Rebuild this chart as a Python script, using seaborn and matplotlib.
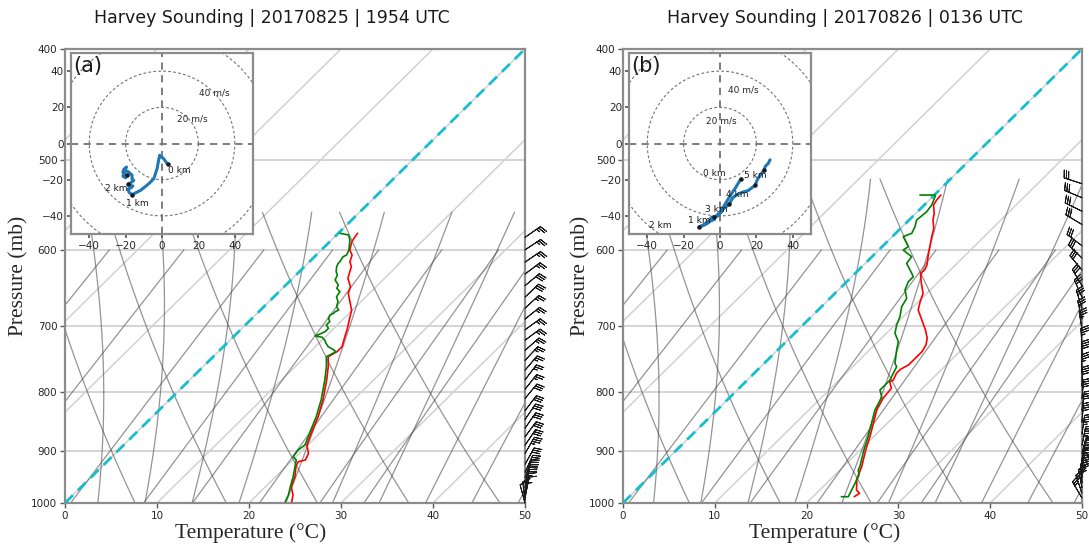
import numpy as np
import pandas as pd
import matplotlib
matplotlib.use("Agg")
import matplotlib.pyplot as plt
import matplotlib.transforms as mtransforms
from matplotlib.ticker import FixedLocator, ScalarFormatter, NullLocator
import seaborn as sns

# ---------------- data ----------------
titles = ["Harvey Sounding | 20170825 | 1954 UTC", "Harvey Sounding | 20170826 | 0136 UTC"]
panel_tags = ["(a)", "(b)"]
pressure_ticks = [1000, 900, 800, 700, 600, 500, 400]
temp_ticks = [0, 10, 20, 30, 40, 50]
hodo_ticks = [-40, -20, 0, 20, 40]
ring_speeds = [20, 40, 60]
ring_labels = ["20 m/s", "40 m/s"]
dry_t0 = [0, 10, 20, 30, 40, 50]
moist_t0 = [0, 5, 10, 15, 20, 25, 30, 35, 40, 45, 50]
mix_w = [0.0004, 0.001, 0.002, 0.004, 0.007, 0.01, 0.016, 0.024, 0.032]

# panel (a) : temperature
p_t_a = [997.4, 984.0, 967.6, 948.3, 929.3, 920.0, 916.9, 904.6, 889.5, 868.8, 840.1, 812.3,
         780.2, 759.5, 744.3, 736.9, 729.5, 714.9, 705.3, 688.8, 677.4, 655.0, 646.2, 635.4,
         620.7, 614.5, 606.3, 600.2, 590.2, 584.2, 580.2]
t_a = [24.5, 23.9, 22.8, 22.1, 21.1, 20.8, 21.4, 21.0, 19.9, 19.1, 18.0, 16.7,
       14.9, 13.6, 12.5, 12.9, 12.9, 12.1, 11.6, 10.6, 9.9, 7.7, 7.2, 6.0,
       5.1, 4.4, 3.9, 3.1, 2.4, 2.2, 2.1]
# panel (a) : dewpoint
p_td_a = [997.4, 984.0, 967.6, 948.3, 929.3, 916.9, 910.8, 898.5, 889.5, 868.8, 840.1, 812.3,
          780.2, 759.5, 744.3, 736.9, 733.4, 729.5, 724.6, 719.9, 715.7, 713.8, 710.0, 707.6,
          702.8, 698.3, 693.4, 688.8, 684.2, 681.9, 679.8, 677.4, 672.9, 666.1, 659.5, 652.7,
          648.4, 644.0, 637.6, 631.2, 627.0, 620.7, 616.5, 614.5, 608.3, 606.3, 600.2, 588.1,
          582.2, 580.2]
td_a = [23.8, 23.4, 22.7, 21.9, 21.0, 20.4, 19.7, 19.5, 19.7, 18.9, 17.8, 16.5,
        14.7, 13.4, 12.3, 12.8, 12.2, 11.4, 10.8, 10.3, 9.7, 8.8, 9.2, 9.4,
        9.4, 8.8, 8.8, 8.3, 8.1, 8.3, 8.3, 8.5, 7.9, 7.5, 6.8, 6.6,
        5.9, 5.7, 4.8, 4.5, 4.0, 3.5, 3.3, 3.3, 3.1, 3.3, 3.0, 2.0,
        1.3, 0.2]
# panel (a) : wind (m/s)
p_w_a = [1000, 995, 990, 985, 978, 970, 960, 950, 940, 925, 905, 890, 875, 860, 845, 830,
         810, 795, 780, 765, 750, 735, 720, 705, 690, 675, 660, 645, 630, 615, 600, 585]
u_a = [3.1, 1.0, -1.3, -2.0, -2.7, -4.5, -6.5, -8.2, -11.8, -15.5, -16.4, -18.2, -18.5, -17.0,
       -16.0, -17.5, -18.5, -17.0, -15.5, -16.5, -16.4, -18.0, -20.0, -21.5, -21.0, -19.0,
       -20.0, -21.5, -20.5, -21.0, -19.5, -20.5]
v_a = [-11.5, -8.5, -6.5, -10.0, -13.9, -19.4, -21.5, -23.0, -25.9, -27.8, -28.3, -26.9,
       -25.0, -24.5, -23.5, -23.0, -22.6, -21.5, -20.4, -19.5, -17.6, -16.0, -14.8, -15.5,
       -17.0, -17.6, -19.0, -18.0, -15.5, -14.3, -13.0, -14.3]
km_u_a = [3.1, -16.4, -18.5, -19.0]
km_v_a = [-11.5, -28.3, -22.6, -17.6]
km_lbl_a = ["0 km", "1 km", "2 km"]

# panel (b) : temperature
p_t_b = [987.4, 980.6, 974.1, 961.0, 954.7, 929.3, 898.5, 874.8, 851.5, 828.9, 809.5, 801.4,
         793.3, 782.9, 780.2, 769.7, 763.5, 756.9, 746.8, 736.9, 726.9, 717.2, 705.3, 691.2,
         677.4, 666.1, 655.0, 641.8, 629.0, 624.9, 618.6, 608.3, 596.1, 584.2, 574.4, 564.9,
         557.3, 548.0, 542.5, 537.1]
t_b = [24.5, 24.7, 24.0, 23.3, 22.9, 22.0, 20.6, 19.6, 18.5, 17.4, 16.8, 16.7,
       16.6, 15.7, 15.9, 15.5, 15.5, 15.9, 15.9, 15.9, 15.6, 15.0, 13.9, 12.4,
       10.9, 10.2, 9.6, 8.3, 7.1, 7.2, 6.9, 6.1, 5.2, 4.3, 3.6, 2.6,
       2.0, 1.0, 0.8, 0.7]
# panel (b) : dewpoint
p_td_b = [987.4, 987.4, 980.6, 967.6, 954.7, 945.1, 935.6, 929.3, 898.5, 874.8, 851.5, 828.9,
          809.5, 806.9, 796.1, 785.4, 780.2, 769.7, 759.5, 754.3, 734.4, 722.1, 710.0, 698.3,
          686.6, 672.9, 661.6, 650.6, 639.8, 633.4, 629.0, 616.5, 608.3, 600.2, 596.1, 584.2,
          580.2, 572.6, 564.9, 555.5, 548.0, 538.9, 537.1, 537.1]
td_b = [23.1, 23.85, 23.66, 23.29, 22.93, 22.63, 22.0, 21.8, 20.4, 19.4, 18.3, 17.2,
        16.6, 16.47, 15.55, 15.55, 15.53, 15.16, 14.8, 14.24, 12.96, 12.23, 10.94, 10.21,
        9.65, 8.74, 8.36, 7.26, 6.71, 6.7, 6.15, 4.5, 4.32, 2.67, 2.85, 1.2,
        1.75, 1.38, 0.82, 1.0, 0.81, 0.26, 0.07, -1.57]
# panel (b) : wind (m/s)
p_w_b = [990, 980, 970, 960, 950, 940, 930, 915, 905, 890, 870, 850, 830, 810, 790, 770, 750,
         730, 705, 690, 675, 660, 645, 625, 610, 595, 570, 555, 540, 525]
u_b = [11.5, 8.5, 5.5, 2.5, 0.0, -4.0, -7.5, -10.0, -11.6, -9.0, -6.0, -3.0, -5.0, -3.5, -1.0,
       1.0, 0.0, 2.0, 5.1, 7.0, 9.0, 12.0, 15.5, 19.3, 20.5, 22.5, 24.2, 25.0, 26.5, 27.5]
v_b = [-19.5, -24.5, -29.0, -34.0, -38.0, -42.0, -44.5, -45.5, -46.2, -45.0, -42.5, -42.0,
       -41.0, -40.4, -40.0, -37.0, -38.5, -36.0, -33.5, -30.0, -28.5, -27.0, -26.0, -23.1,
       -20.0, -17.0, -14.5, -12.5, -11.0, -9.0]
km_u_b = [11.5, -11.6, -3.5, 5.1, 19.3, 24.2]
km_v_b = [-19.5, -46.2, -40.4, -33.5, -23.1, -14.5]
km_lbl_b = ["0 km", "1 km", "2 km", "3 km", "4 km", "5 km"]

# ---------------- helpers ----------------
SKEW = 50.0 / np.log(1000.0 / 400.0)
KAPPA = 0.2857
RD, CPD, LV, EPS = 287.04, 1005.7, 2.501e6, 0.622


def skew_x(t, p):
    return np.asarray(t, float) + SKEW * np.log(1000.0 / np.asarray(p, float))


def sat_vp(tc):
    return 6.112 * np.exp(17.67 * tc / (tc + 243.5))


def moist_profile(t0, p):
    def dtdp(tk, pp):
        es = sat_vp(tk - 273.15)
        rs = EPS * es / (pp - es)
        frac = (RD * tk + LV * rs) / (CPD + LV * LV * rs * EPS / (RD * tk * tk))
        return frac / pp
    tk = t0 + 273.15
    out = [tk]
    for i in range(1, len(p)):
        h = p[i] - p[i - 1]
        k1 = dtdp(tk, p[i - 1])
        k2 = dtdp(tk + h / 2 * k1, p[i - 1] + h / 2)
        k3 = dtdp(tk + h / 2 * k2, p[i - 1] + h / 2)
        k4 = dtdp(tk + h * k3, p[i])
        tk = tk + h / 6 * (k1 + 2 * k2 + 2 * k3 + k4)
        out.append(tk)
    return np.array(out) - 273.15


def mixing_td(w, p):
    e = w * p / (EPS + w)
    lg = np.log(e / 6.112)
    return 243.5 * lg / (17.67 - lg)


# ---------------- figure ----------------
sns.set_theme(style="white")
plt.rcParams["font.family"] = ["DejaVu Sans"]
plt.rcParams["axes.unicode_minus"] = True

W, H = 1089, 552
fig = plt.figure(figsize=(W / 100, H / 100), dpi=100)
fig.patch.set_facecolor("white")

GRID_C = "0.82"
LINE_C = "0.3"
SPINE_C = "0.55"


def fx(px):
    return px / W


def fy(py):
    return 1 - py / H


def draw_panel(left_px, right_px, inset_left_px, title, tag,
               p_t, t, p_td, td, p_w, u, v, km_u, km_v, km_lbl,
               km_lbl_xy, ring_lbl_xy, p_bot, p_top, title_cx, xlabel_cx, ylabel_x):
    top_px, bot_px = 49, 503
    ax = fig.add_axes([fx(left_px), fy(bot_px), fx(right_px - left_px), (bot_px - top_px) / H])
    ax.set_facecolor("white")
    ax.set_yscale("log")
    ax.set_ylim(1000, 400)
    ax.set_xlim(0, 50)
    ax.yaxis.set_major_locator(FixedLocator(pressure_ticks))
    ax.yaxis.set_major_formatter(ScalarFormatter())
    ax.yaxis.set_minor_locator(NullLocator())
    ax.xaxis.set_major_locator(FixedLocator(temp_ticks))
    ax.tick_params(axis="both", which="major", labelsize=7.5, length=3.5, width=1.0,
                   color="0.35", labelcolor="0.15", pad=2, left=True, bottom=True)
    for s in ax.spines.values():
        s.set_color(SPINE_C)
        s.set_linewidth(1.6)

    # grid: isobars and skewed isotherms
    for P in pressure_ticks:
        ax.axhline(P, color=GRID_C, lw=1.3, zorder=1)
    pp = np.geomspace(1000, 400, 30)
    for T in range(-50, 51, 10):
        ax.plot(skew_x(np.full_like(pp, T), pp), pp, color=GRID_C, lw=1.1, zorder=1)

    # dry adiabats
    pl = np.linspace(p_bot, p_top, 80)
    for t0 in dry_t0:
        T = (t0 + 273.15) * (pl / p_bot) ** KAPPA - 273.15
        ax.plot(skew_x(T, pl), pl, color=LINE_C, lw=0.9, alpha=0.6, zorder=2)
    # moist adiabats
    for t0 in moist_t0:
        T = moist_profile(t0, pl)
        ax.plot(skew_x(T, pl), pl, color=LINE_C, lw=0.9, alpha=0.6, zorder=2)
    # mixing-ratio lines
    pm = np.linspace(600, p_bot, 50)
    for w in mix_w:
        T = mixing_td(w, pm)
        ax.plot(skew_x(T, pm), pm, color=LINE_C, lw=0.9, alpha=0.6, zorder=2)

    # 0 C isotherm
    ax.plot(skew_x(np.zeros_like(pp), pp), pp, color="#17becf", ls=(0, (4, 2.5)), lw=2.0, zorder=3)

    # sounding
    df_t = pd.DataFrame({"x": skew_x(t, p_t), "p": p_t})
    df_d = pd.DataFrame({"x": skew_x(td, p_td), "p": p_td})
    sns.lineplot(data=df_t, x="x", y="p", sort=False, estimator=None, ax=ax,
                 color="red", lw=1.2, zorder=4)
    sns.lineplot(data=df_d, x="x", y="p", sort=False, estimator=None, ax=ax,
                 color="green", lw=1.2, zorder=4)
    ax.set_xlim(0, 50)
    ax.set_ylim(1000, 400)

    # wind barbs at right edge
    trans = mtransforms.blended_transform_factory(ax.transAxes, ax.transData)
    ax.barbs(np.ones(len(p_w)), p_w, u, v, transform=trans, clip_on=False,
             length=5.2, linewidth=0.7, color="k", zorder=6)

    ax.set_xlabel("Temperature (\u00b0C)", family=["Liberation Serif"], fontsize=15.5)
    ax.set_ylabel("Pressure (mb)", family=["Liberation Serif"], fontsize=15.5)
    ax.xaxis.set_label_coords((xlabel_cx - left_px) / (right_px - left_px), (bot_px - 523) / (bot_px - top_px))
    ax.yaxis.set_label_coords((ylabel_x - left_px) / (right_px - left_px), 0.5)

    fig.text(fx(title_cx), fy(18), title, ha="center", va="center", fontsize=12.5, color="0.1")

    # hodograph inset
    axh = fig.add_axes([fx(inset_left_px), fy(234), fx(182), 181 / H])
    axh.set_facecolor("white")
    axh.set_xlim(-50, 50)
    axh.set_ylim(-50, 50)
    axh.xaxis.set_major_locator(FixedLocator(hodo_ticks))
    axh.yaxis.set_major_locator(FixedLocator(hodo_ticks))
    axh.tick_params(labelsize=7.5, length=3, color="0.35", labelcolor="0.15", pad=2,
                    left=True, bottom=True)
    for s in axh.spines.values():
        s.set_color(SPINE_C)
        s.set_linewidth(1.6)
    th = np.linspace(0, 2 * np.pi, 300)
    for r in ring_speeds:
        axh.plot(r * np.cos(th), r * np.sin(th), ls=(0, (2.5, 2)), color="0.45", lw=0.8, zorder=1)
    axh.axhline(0, ls=(0, (4, 3)), color="0.45", lw=1.3, zorder=1)
    axh.axvline(0, ls=(0, (4, 3)), color="0.45", lw=1.3, zorder=1)
    for lbl, (lx, ly) in zip(ring_labels, ring_lbl_xy):
        axh.text(lx, ly, lbl, fontsize=6.5, ha="center", va="center", color="0.15")
    df_h = pd.DataFrame({"u": u, "v": v})
    sns.lineplot(data=df_h, x="u", y="v", sort=False, estimator=None, ax=axh,
                 color="#1f77b4", lw=2.2, zorder=3)
    axh.plot(km_u, km_v, "o", color="k", ms=2.2, zorder=4)
    for lbl, (lx, ly) in zip(km_lbl, km_lbl_xy):
        axh.text(lx, ly, lbl, fontsize=6.5, ha="center", va="center", color="0.1", zorder=5)
    axh.set_xlabel("")
    axh.set_ylabel("")
    axh.text(0.015, 0.985, tag, transform=axh.transAxes, ha="left", va="top", fontsize=15, color="0.1")
    return ax, axh


draw_panel(65, 525, 71, titles[0], panel_tags[0], p_t_a, t_a, p_td_a, td_a, p_w_a, u_a, v_a,
           km_u_a, km_v_a, km_lbl_a,
           km_lbl_xy=[(9.7, -14.8), (-13.6, -33.0), (-25.0, -25.0)],
           ring_lbl_xy=[(16.4, 13.3), (28.9, 27.8)],
           p_bot=1030, p_top=556, title_cx=272, xlabel_cx=251, ylabel_x=28)
draw_panel(623, 1082, 629, titles[1], panel_tags[1], p_t_b, t_b, p_td_b, td_b, p_w_b, u_b, v_b,
           km_u_b, km_v_b, km_lbl_b,
           km_lbl_xy=[(-2.9, -16.4), (-11.6, -42.7), (-33.0, -45.5), (-1.8, -36.7), (9.6, -28.0), (19.6, -17.6)],
           ring_lbl_xy=[(0.5, 12.7), (12.6, 29.6)],
           p_bot=1035, p_top=520, title_cx=845, xlabel_cx=825, ylabel_x=590)

fig.savefig("out.png", dpi=100, facecolor="white")
